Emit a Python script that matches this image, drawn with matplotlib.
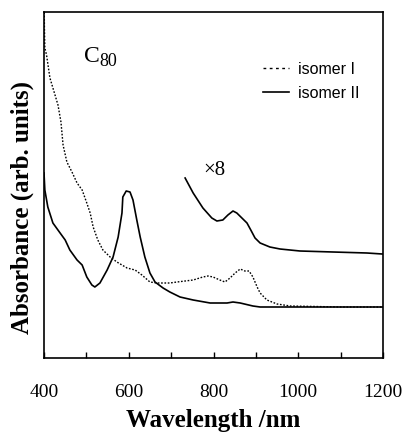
import matplotlib
matplotlib.use("Agg")
import matplotlib.pyplot as plt
from matplotlib.lines import Line2D

# isomer I (dotted)
wl_iso1 = [400, 401, 402, 406, 414, 426, 433, 440, 445, 454, 466, 478, 490, 501, 509, 516,
           527, 539, 556, 572, 596, 615, 631, 650, 667, 697, 714, 752, 775, 787, 799, 815,
           827, 839, 851, 863, 874, 884, 893, 903, 910, 926, 950, 981, 1100, 1200]
ab_iso1 = [370, 330, 310, 303, 280, 263, 253, 236, 213, 196, 186, 175, 168, 155, 145, 131,
           118, 108, 101, 96, 90, 88, 83, 76, 75, 75, 76, 78, 81, 82, 81, 78,
           76, 80, 85, 89, 87, 87, 81, 71, 65, 58, 54, 52, 51, 51]

# isomer II (solid)
wl_iso2 = [400, 402, 409, 421, 438, 450, 461, 478, 490, 501, 513, 520, 532, 549, 563, 575,
           584, 586, 594, 603, 610, 619, 627, 638, 650, 662, 681, 697, 721, 752, 792, 832,
           846, 863, 893, 910, 1050, 1200]
ab_iso2 = [185, 168, 151, 135, 125, 118, 108, 98, 93, 81, 73, 71, 75, 88, 101, 121,
           145, 161, 167, 166, 158, 138, 121, 101, 85, 76, 70, 66, 61, 58, 55, 55,
           56, 55, 52, 51, 51, 51]

# isomer II x8
wl_x8 = [733, 752, 775, 796, 808, 822, 834, 846, 855, 867, 879, 888, 898, 910, 933, 957,
         1004, 1082, 1162, 1198]
ab_x8 = [180, 165, 150, 140, 137, 138, 143, 147, 145, 140, 135, 128, 120, 115, 111, 109,
         107, 106, 105, 104]

xticks = [400, 500, 600, 700, 800, 900, 1000, 1100, 1200]
xticklabels = ["400", "", "600", "", "800", "", "1000", "", "1200"]

fig = plt.figure(figsize=(4.08, 4.32), dpi=100)
ax = fig.add_axes([44/408, 1-358/432, 339/408, 346/432])

dot_style = (0, (1.2, 1.2))
ax.plot(wl_iso1, ab_iso1, color="black", lw=1.0, linestyle=dot_style)
ax.plot(wl_iso2, ab_iso2, color="black", lw=1.2)
ax.plot(wl_x8, ab_x8, color="black", lw=1.2)

ax.set_xlim(400, 1200)
ax.set_ylim(0, 346)
ax.set_xticks(xticks)
ax.set_xticklabels(xticklabels, fontfamily="Liberation Serif", fontsize=14)
ax.tick_params(axis="x", direction="in", length=4, width=1, pad=19)
ax.set_yticks([])
for s in ax.spines.values():
    s.set_linewidth(1.2)

fig.text((44 + 339/2)/408, 1-420/432, "Wavelength /nm", ha="center", va="center",
         fontfamily="Liberation Serif", fontweight="bold", fontsize=18)
fig.text(22/408, 1-208/432, "Absorbance (arb. units)", rotation=90, ha="center", va="center",
         fontfamily="Liberation Serif", fontweight="bold", fontsize=18)

fig.text(84/408, 1-57/432, "C", fontfamily="Liberation Serif", fontsize=17, va="center", ha="left")
fig.text(99/408, 1-62/432, "80", fontfamily="Liberation Serif", fontsize=13, va="center", ha="left")
fig.text(203/408, 1-170/432, "\u00d78", fontfamily="Liberation Serif", fontsize=15, va="center", ha="left")

handles = [Line2D([], [], color="black", lw=1.0, linestyle=(0, (2, 2.5))),
           Line2D([], [], color="black", lw=1.2)]
ax.legend(handles, ["isomer I", "isomer II"], loc="upper left",
          bbox_to_anchor=((263-44)/339, (358-62)/346), frameon=False,
          prop={"family": "Liberation Sans", "size": 11.5}, handlelength=1.6,
          handletextpad=0.6, borderpad=0, borderaxespad=0, labelspacing=0.55)

fig.savefig("out.png", dpi=100)
